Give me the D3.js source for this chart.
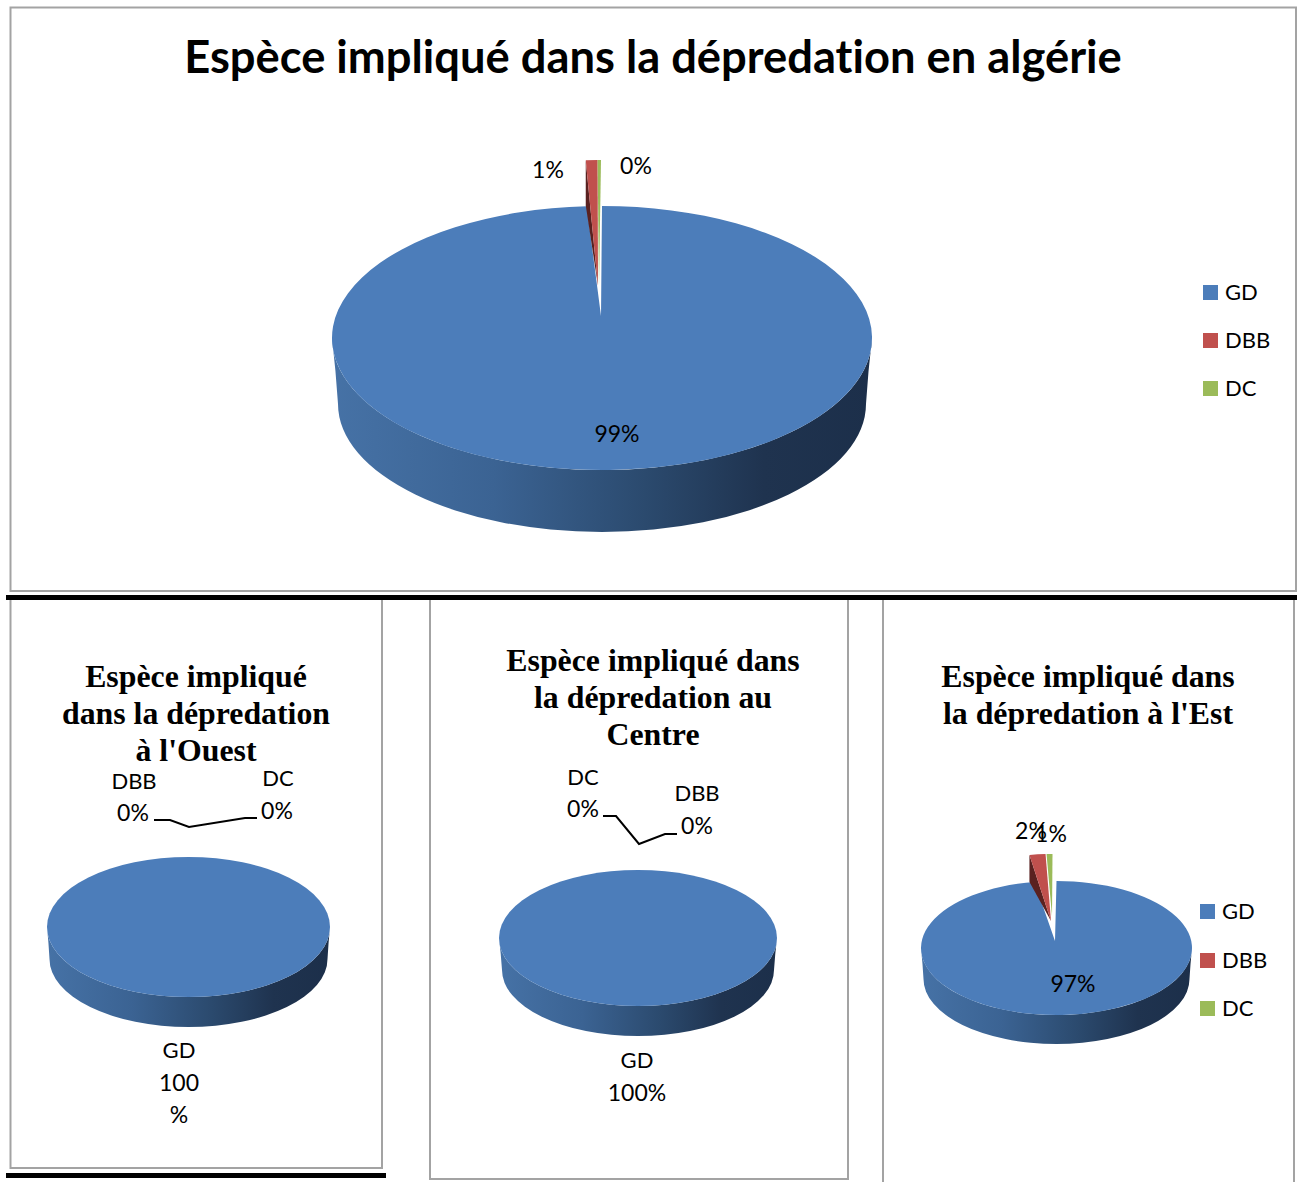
<!DOCTYPE html>
<html><head><meta charset="utf-8">
<script src="https://cdn.jsdelivr.net/npm/d3@7"></script>
<style>html,body{margin:0;padding:0;background:#fff;overflow:hidden}svg{display:block}text{font-variant-ligatures:none}</style>
</head><body><svg id="c" width="1297" height="1182"></svg>
<script>
const categories = ["GD","DBB","DC"];
const algerieValues = [99.1,0.7,0.2];
const ouestValues = [100,0,0];
const centreValues = [100,0,0];
const estValues = [97.4,1.9,0.7];
const colors = ["#4c7dba","#c0504d","#9bbb59"];
const darkColors = ["#1f3550","#5a2120","#4a5a2a"];

const svg = d3.select("#c");
const SANS = "Lato, Carlito, 'Open Sans', sans-serif";
const SERIF = "'Liberation Serif', serif";
const defs = svg.append("defs");
const g = defs.append("linearGradient").attr("id","wall");
[[0,"#4672a6"],[.3,"#3b6393"],[.58,"#2b4a6e"],[.8,"#1f334f"],[1,"#1c2f4a"]]
  .forEach(s=>g.append("stop").attr("offset",s[0]).attr("stop-color",s[1]));

// frames
const frame = (d)=>svg.append("path").attr("d",d).attr("fill","none").attr("stroke","#a3a3a3").attr("stroke-width",2);
frame("M10.5,7.5H1296V591H10.5Z");
frame("M10.5,600V1168H382V600");
frame("M430,600V1179H848V600");
frame("M883,600V1182M1294,600V1182");
svg.append("rect").attr("x",6).attr("y",595).attr("width",1291).attr("height",5).attr("fill","#000");
svg.append("rect").attr("x",6).attr("y",1173).attr("width",380).attr("height",5).attr("fill","#000");

const pie = d3.pie().sort(null);

function drawPie(values, o){
  const arcs = pie(values);
  const P = (a,rx=o.rx,ry=o.ry,cy=o.cy)=>[o.cx+rx*Math.sin(a), cy-ry*Math.cos(a)];
  // side wall
  const b = {rx:o.brx, ry:o.bry, cy:o.bcy};
  const midY=(o.cy+b.cy)/2;
  svg.append("path").attr("fill","url(#wall)").attr("d",
    `M${o.cx-o.rx},${o.cy}A${o.rx},${o.ry} 0 0 0 ${o.cx+o.rx},${o.cy}`+
    `Q${o.cx+b.rx+(o.rx-b.rx)*0.35},${midY} ${o.cx+b.rx},${b.cy}A${b.rx},${b.ry} 0 0 1 ${o.cx-b.rx},${b.cy}`+
    `Q${o.cx-b.rx-(o.rx-b.rx)*0.35},${midY} ${o.cx-o.rx},${o.cy}Z`);
  // top of main slice
  const m = arcs[0];
  if(m.endAngle-m.startAngle >= 2*Math.PI-1e-6){
    svg.append("ellipse").attr("cx",o.cx).attr("cy",o.cy).attr("rx",o.rx).attr("ry",o.ry).attr("fill",colors[0]);
  } else {
    const s=P(m.startAngle), e=P(m.endAngle);
    svg.append("path").attr("fill",colors[0]).attr("d",
      `M${o.apex[0]},${o.apex[1]}L${s}A${o.rx},${o.ry} 0 1 1 ${e}Z`);
    // exploded slices
    arcs.slice(1).forEach((a,i)=>{
      const ex=o.explode[i];
      const s2=P(a.startAngle), e2=P(a.endAngle);
      const ap=[o.apex[0]+ex.ax, o.apex[1]+ex.ay];
      const A=[s2[0]+ex.dx,s2[1]+ex.dy], B=[e2[0]+ex.dx,e2[1]+ex.dy];
      if(ex.side) svg.append("path").attr("fill",darkColors[i+1]).attr("d",
        `M${A}L${A[0]},${A[1]+ex.side}L${ap}Z`);
      svg.append("path").attr("fill",colors[i+1]).attr("d",
        `M${ap}L${A}A${o.rx},${o.ry} 0 0 1 ${B}Z`);
    });
  }
}

function text(t,x,y,opt={}){
  return svg.append("text").text(t).attr("x",x).attr("y",y)
    .attr("text-anchor",opt.anchor||"middle").attr("dominant-baseline","central")
    .attr("font-family",opt.family||SANS).attr("font-size",opt.size||23)
    .attr("font-weight",opt.weight||400).attr("fill","#000");
}
const pct = d3.format(".0f");
const CAT = {size:22};
function legend(x,ys){
  categories.forEach((c,i)=>{
    svg.append("rect").attr("x",x).attr("y",ys[i]-7).attr("width",15).attr("height",15).attr("fill",colors[i]);
    text(c,x+22,ys[i]-1,{anchor:"start",size:22});
  });
}
const TITLE = {family:SERIF,size:31.8,weight:700};

// Algérie
drawPie(algerieValues,{cx:602,cy:338,rx:270,ry:132,brx:264,bry:128,bcy:404,apex:[601,316],
  explode:[{dx:-1,dy:-46,ax:-3,ay:-30,side:45},{dx:-1,dy:-46,ax:-2,ay:-30}]});
text("Espèce impliqué dans la dépredation en algérie",653,55,{size:45.3,weight:700});
text(pct(algerieValues[1])+"%",548,169);
text(pct(algerieValues[2])+"%",636,165);
text(pct(algerieValues[0])+"%",617,433);
legend(1203,[292,340,388]);

// Ouest
drawPie(ouestValues,{cx:188.5,cy:927,rx:141.5,ry:70,brx:139,bry:68,bcy:959,apex:[188,927],explode:[]});
[["Espèce impliqué",196,676],["dans la dépredation",196,713],["à l'Ouest",196,750]]
  .forEach(l=>text(l[0],l[1],l[2],TITLE));
text(categories[1],134,780,CAT); text(pct(ouestValues[1])+"%",133,812);
text(categories[2],278,777,CAT); text(pct(ouestValues[2])+"%",277,810);
text(categories[0],179,1049,CAT); text(pct(ouestValues[0]),179,1082); text("%",179,1114);
svg.append("path").attr("fill","none").attr("stroke","#000").attr("stroke-width",2)
  .attr("d",d3.line()(d3.zip([154,170,189,245,257],[820,820,827,818,818])));

// Centre
drawPie(centreValues,{cx:638,cy:938,rx:139,ry:68,brx:136,bry:66,bcy:970,apex:[638,938],explode:[]});
[["Espèce impliqué dans",653,660],["la dépredation au",653,697],["Centre",653,734]]
  .forEach(l=>text(l[0],l[1],l[2],TITLE));
text(categories[2],583,776,CAT); text(pct(centreValues[2])+"%",583,808);
text(categories[1],697,792,CAT); text(pct(centreValues[1])+"%",697,825);
text(categories[0],637,1059,CAT); text(pct(centreValues[0])+"%",637,1092);
svg.append("path").attr("fill","none").attr("stroke","#000").attr("stroke-width",2)
  .attr("d",d3.line()(d3.zip([603,616,639,665,677],[816,816,844,834,834])));

// Est
drawPie(estValues,{cx:1056.5,cy:948,rx:135.5,ry:67,brx:133,bry:65,bcy:979,apex:[1055,941],
  explode:[{dx:-5,dy:-27,ax:-4,ay:-20,side:27},{dx:-4,dy:-27,ax:-3,ay:-25}]});
[["Espèce impliqué dans",1088,676],["la dépredation à l'Est",1088,713]]
  .forEach(l=>text(l[0],l[1],l[2],TITLE));
text(pct(estValues[1])+"%",1031,830);
text(pct(estValues[2])+"%",1051,833);
text(pct(estValues[0])+"%",1073,983);
legend(1200,[911,960,1008]);
</script></body></html>
